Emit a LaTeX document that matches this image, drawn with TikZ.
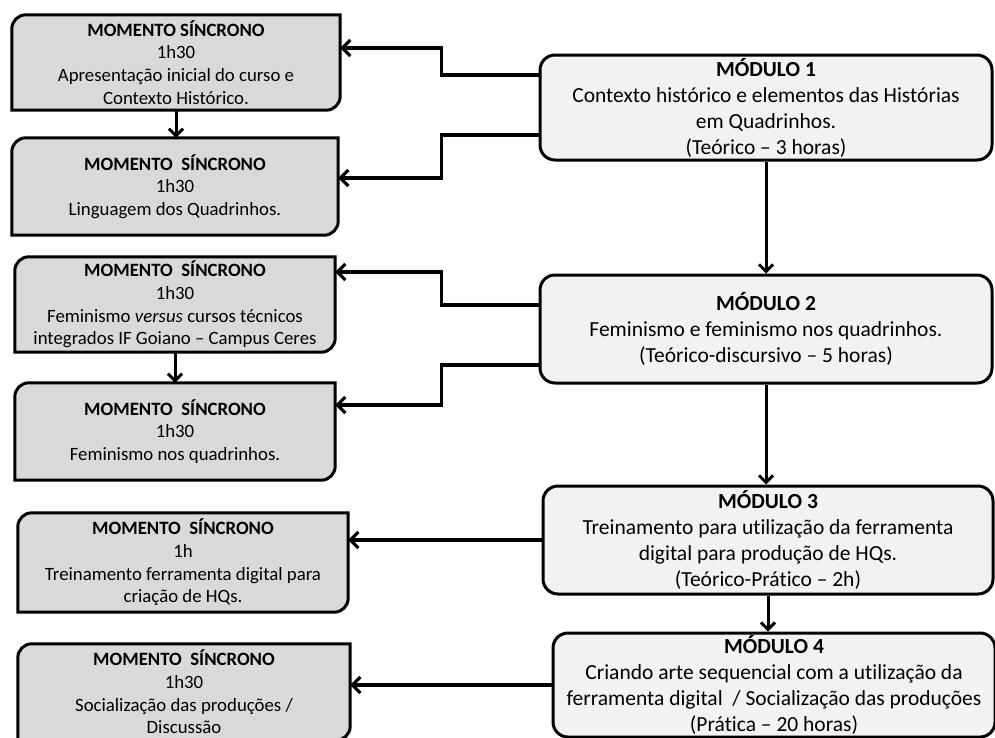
\documentclass[tikz,border=0pt]{standalone}
\usepackage{fontspec}
\setmainfont{Carlito}[Ligatures={TeX,NoCommon}]
\usetikzlibrary{arrows.meta,backgrounds}
\definecolor{boxgray}{HTML}{D9D9D9}
\definecolor{modgray}{HTML}{F2F2F2}

\begin{document}
\begin{tikzpicture}[x=1pt, y=1pt,
        momento/.style={inner sep=0pt, align=center, font=\fontsize{18.8}{22.7}\selectfont},
        modulo/.style={draw, line width=3pt, fill=modgray, rounded corners=15pt, inner sep=0pt, align=center, font=\fontsize{21.5}{26}\selectfont},
        link/.style={line width=3.2pt, -{Straight Barb[length=8pt, width=16pt]}},
        down/.style={line width=3pt, -{Straight Barb[length=7pt, width=14pt]}}]
    \useasboundingbox (0,0) rectangle (995,-737);
    % momentos
    \node[momento, minimum width=328pt, minimum height=95pt] (s1) at (176,-62.5) {\textbf{MOMENTO SÍNCRONO}\\1h30\\Apresentação inicial do curso e\\Contexto Histórico.};
    \node[momento, minimum width=326pt, minimum height=97pt] (s2) at (175,-186.5) {\textbf{MOMENTO~~SÍNCRONO}\\1h30\\Linguagem dos Quadrinhos.};
    \node[momento, minimum width=320pt, minimum height=95pt] (s3) at (175,-304.5) {\textbf{MOMENTO~~SÍNCRONO}\\1h30\\Feminismo \textit{versus} cursos técnicos\\integrados IF Goiano – Campus Ceres};
    \node[momento, minimum width=320pt, minimum height=97pt] (s4) at (175,-431.5) {\textbf{MOMENTO~~SÍNCRONO}\\1h30\\Feminismo nos quadrinhos.};
    \node[momento, minimum width=330pt, minimum height=99pt] (s5) at (183,-562.5) {\textbf{MOMENTO~~SÍNCRONO}\\1h\\Treinamento ferramenta digital para\\criação de HQs.};
    \node[momento, minimum width=332pt, minimum height=96pt] (s6) at (184,-692) {\textbf{MOMENTO~~SÍNCRONO}\\1h30\\Socialização das produções /\\Discussão};
    % modulos
    \node[modulo, minimum width=452pt, minimum height=105pt] (m1) at (766,-107.5) {\textbf{MÓDULO 1}\\Contexto histórico e elementos das Histórias\\em Quadrinhos.\\(Teórico – 3 horas)};
    \node[modulo, minimum width=452pt, minimum height=108pt] (m2) at (766,-329) {\textbf{MÓDULO 2}\\Feminismo e feminismo nos quadrinhos.\\(Teórico-discursivo – 5 horas)};
    \node[modulo, minimum width=450pt, minimum height=108pt] (m3) at (768,-540) {\textbf{MÓDULO 3}\\Treinamento para utilização da ferramenta\\digital para produção de HQs.\\(Teórico-Prático – 2h)};
    \node[modulo, minimum width=442pt, minimum height=104pt] (m4) at (774,-685) {\textbf{MÓDULO 4}\\Criando arte sequencial com a utilização da\\ferramenta digital~~/ Socialização das produções\\(Prática – 20 horas)};
    \begin{scope}[on background layer]
        \foreach \n in {s1,s2,s3,s4,s5,s6}
            \draw[line width=3pt, fill=boxgray] (\n.south west) -- ([yshift=-14]\n.north west) arc[start angle=180, end angle=90, radius=14] -- (\n.north east) -- ([yshift=14]\n.south east) arc[start angle=0, end angle=-90, radius=14] -- cycle;
    \end{scope}
    % ligacoes
    \draw[link] ([yshift=32.5]m1.west) -- ++(-97,0) |- ([yshift=14.5]s1.east);
    \draw[link] ([yshift=-27.5]m1.west) -- ++(-97,0) |- ([yshift=8.5]s2.east);
    \draw[link] ([yshift=24]m2.west) -- ++(-97,0) |- ([yshift=32.5]s3.east);
    \draw[link] ([yshift=-36]m2.west) -- ++(-97,0) |- ([yshift=26.5]s4.east);
    \draw[link] (m3.west) -- (s5.east |- m3.west);
    \draw[link] (m4.west) -- (s6.east |- m4.west);
    \draw[down] (s1.south) -- (s1.south |- s2.north);
    \draw[down] (s3.south) -- (s3.south |- s4.north);
    \draw[down] (m1.south) -- (m2.north);
    \draw[down] (m2.south) -- (m2.south |- m3.north);
    \draw[down] (m3.south) -- (m3.south |- m4.north);
\end{tikzpicture}
\end{document}
